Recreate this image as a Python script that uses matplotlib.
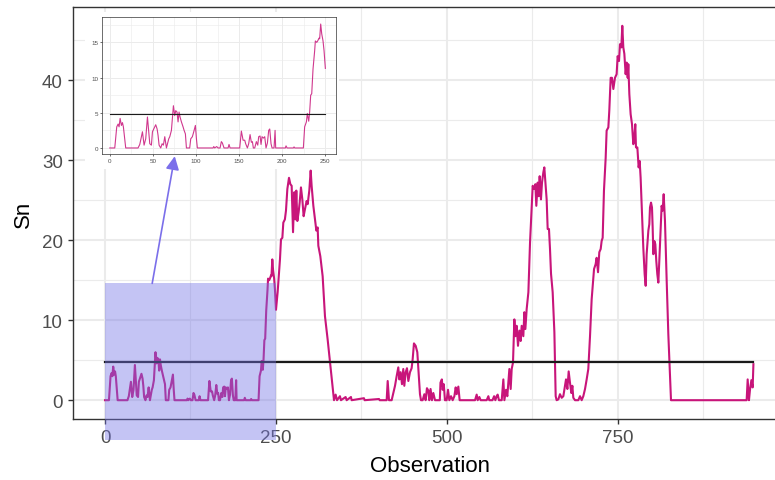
import numpy as np
import matplotlib.pyplot as plt
from matplotlib.patches import Rectangle, FancyArrowPatch

plt.rcParams['font.family'] = ['Liberation Sans', 'DejaVu Sans']

# === Data ===
obs = [0, 5.8, 8.1, 9.7, 10.8, 12, 13.5, 14.7, 15.8, 18.5, 32.8, 34.8, 36.7, 37.9, 39.8,
       41.7, 43.7, 45.2, 46.4, 48.3, 49.5, 51.4, 53.3, 54.9, 56, 57.2, 59.1, 60.7, 62.2,
       63.8, 65.7, 68.4, 69.6, 71.5, 73.8, 75.3, 76.5, 78, 79.2, 80.4, 81.5, 83.1, 85,
       86.2, 87.7, 88.9, 92.7, 93.9, 95.8, 97.4, 99.3, 100.5, 101.6, 119.8, 120.6, 121.7,
       124, 125.6, 127.9, 129.4, 130.6, 132.5, 137.2, 138.3, 139.5, 150.7, 152.6, 154.6,
       156.5, 157.6, 159.6, 161.1, 162.7, 164.2, 165.4, 166.5, 168.1, 170, 171.6, 172.7,
       174.3, 175.4, 176.6, 178.1, 179.7, 181.2, 182.8, 184.3, 185.5, 187, 188.2, 190.5,
       191.7, 192.4, 203.6, 204.4, 205.6, 212.9, 213.7, 214.5, 224.5, 226, 228, 229.1,
       230.7, 231.8, 233, 234.2, 235.7, 237.6, 238.4, 240, 241.1, 242.7, 243.4, 244.6,
       245.8, 247.3, 248.5, 250,
       252.4, 255.8, 257.3, 259.3, 260.7, 263, 264.6, 266.6, 269, 271, 272.9, 274.9, 276.8,
       278.3, 279.7, 281.2, 283.1, 284.6, 286.5, 288.5, 290.4, 292.4, 294.8, 296.3, 298.7,
       300.7, 302.1, 304.6, 307, 309, 310.9, 311.9, 314.8, 318.2, 321.6, 325.5, 329, 332.4,
       334.8, 337.2, 339.2, 343.5, 345, 351.8, 353.3, 359.6, 360.6, 378.6, 379.6, 400.6,
       401.6, 411.8, 413.3, 415.2, 419.1, 424, 426.4, 428.8, 430.3, 432.2, 434.2, 436.1,
       437.6, 439.6, 441.5, 443.5, 445.9, 448.3, 449.8, 451.7, 454.2, 456.6, 458.1, 460.5,
       462, 464.4, 466.9, 468.8, 470.7, 472.7, 474.1, 476, 478, 480, 482.5, 489.5, 490.5,
       492.5, 493.7, 495.3, 497, 499.5, 501.5, 503.4, 505.9, 508.3, 510.8, 512.7, 514.2,
       516.6, 518.5, 541, 543.4, 544.9, 547.3, 549.2, 558, 560.5, 561.8, 566.5, 568.9,
       570.7, 572.6, 574.1, 576, 580, 582.4, 583.9, 586.3, 588.2, 589.7, 591.2, 593.1,
       594.6, 596.5, 598.5, 599.9, 601.9, 603.8, 605.8, 607.7, 609.2, 611.6, 613.1, 614.6,
       616.5, 619, 621.4, 623.8, 625.3, 627.2, 629.2, 630.6, 632.6, 634.1, 635.5, 637.4,
       638.9, 640.9, 642.3, 643.8, 645.7, 647.2, 649.1, 650.6, 652.1, 654.5, 657, 658.9,
       660.3, 662.8, 665.2, 667.7, 670.1, 672.5, 674, 676, 677.9, 679.8, 681.8, 683.3,
       684.7, 687.2, 692, 694.5, 696.9, 699.3, 701.8, 704.2, 706.6, 709.1, 711.5, 715,
       717.3, 718.8, 720.8, 722.7, 724.7, 726.1, 727.6, 729.5, 732, 733.4, 735.9, 737.3,
       739.3, 741.2, 743.2, 745.6, 748, 749.5, 751.5, 752.9, 754.9, 756.3, 757.8, 759.3,
       761.2, 762.7, 764.2, 765.1, 766.6, 768.5, 770.5, 772.4, 773.9, 775.3, 776.3, 778.3,
       780.2, 781.7, 783.1, 785.1, 787, 789, 790.5, 791.9, 794.4, 795.8, 796.8, 798.3,
       799.7, 800.7, 801.7, 803.1, 804.6, 806, 807.5, 809, 810.4, 812.4, 813.8, 815.3,
       816.8, 818.7, 821.2, 823.6, 826, 827.5, 938.1, 939.6, 941.5, 943, 945, 946.9, 948]
sn = [0, 0, 3.0, 3.4, 3.0, 4.2, 3.2, 3.6, 3.0, 0, 0, 0.5, 1.6, 2.3, 0.4,
      1.3, 4.4, 2.3, 0.6, 0.4, 2.3, 2.8, 3.3, 2.7, 1.8, 0.4, 0, 0.6, 0.4,
      1.6, 0, 1.3, 1.6, 2.5, 6.0, 4.6, 5.3, 5.1, 3.7, 5.1, 4.4, 3.7, 3.0,
      2.5, 2.0, 0, 0, 1.3, 1.6, 2.3, 3.2, 1.3, 0, 0, 0.2, 0,
      0.2, 0, 0, 0.9, 0.7, 0, 0, 0.5, 0, 0, 2.4, 1.1,
      1.1, 0.6, 0, 0.6, 1.9, 0.8, 0.9, 0, 0, 0.9, 0.4, 1.6,
      1.7, 0.5, 1.6, 1.4, 1.6, 0, 0.7, 2.5, 2.7, 0.6, 0, 0,
      2.5, 0, 0, 0.3, 0, 0, 0.15, 0, 0, 3.0, 3.7, 4.9,
      3.8, 5.1, 7.5, 7.7, 11.2, 13.8, 15.2, 15.0, 15.2, 15.6, 15.5, 17.6,
      16.2, 15.2, 13.8, 11.3,
      13.5, 17.6, 20.1, 20.3, 22.2, 22.6, 23.7, 26.4, 27.8, 27.0, 26.8, 21.0, 26.0,
      22.6, 26.2, 22.4, 23.5, 24.7, 26.6, 25.1, 23.0, 23.9, 24.9, 24.5, 26.2,
      28.7, 26.8, 24.3, 22.6, 21.2, 21.6, 19.3, 18.0, 15.5, 10.5, 7.6, 4.7, 1.8,
      0, 0.7, 0, 0.5, 0, 0.4, 0, 0.4, 0, 0.25, 0, 0.15,
      0, 0, 2.4, 0, 0, 1.8, 3.0, 4.1, 2.6, 3.5, 2.0, 3.9,
      1.8, 3.5, 4.0, 2.4, 3.5, 4.0, 5.1, 7.1, 6.8, 6.0, 3.9, 0.75,
      0, 0, 0.75, 0, 1.5, 1.2, 0, 1.4, 0, 0.9, 0, 0, 2.2,
      2.6, 1.3, 2.0, 0, 0, 1.3, 0, 0.5, 0, 0.5, 1.6, 0.75,
      1.7, 0, 0, 0.7, 0, 0.4, 0, 0, 0.5, 0, 0, 0.5,
      0, 0.5, 0.7, 0, 0, 2.6, 0, 1.3, 0.5, 2.2, 3.9, 1.4,
      3.9, 4.7, 10.1, 8.0, 9.3, 6.8, 8.7, 7.4, 9.3, 8.0, 11.0, 8.9,
      11.4, 13.5, 19.7, 23.9, 26.8, 26.4, 27.0, 24.3, 27.2, 25.5, 28.0, 25.1,
      27.2, 28.5, 29.1, 27.4, 25.1, 21.4, 21.4, 18.9, 15.8, 13.5, 8.5, 0.5,
      0, 0.1, 0.75, 0.3, 0.5, 1.8, 2.6, 1.4, 3.6, 2.2, 0.9, 1.8,
      0.3, 0, 0, 0.5, 0, 0.5, 1.4, 2.6, 3.9, 8.0, 12.6, 16.4,
      17.0, 17.8, 16.0, 18.5, 18.9, 19.9, 20.3, 26.2, 30.3, 33.7, 34.1, 36.2,
      40.3, 40.3, 38.9, 40.3, 40.75, 43.0, 42.4, 44.5, 44.1, 46.8, 44.1, 43.3,
      40.75, 42.2, 40.3, 42.0, 38.25, 35.75, 34.5, 32.0, 32.8, 34.5, 31.6, 31.6,
      29.1, 29.9, 27.8, 23.25, 19.1, 15.75, 14.3, 18.25, 21.2, 22.0, 24.1, 24.7,
      24.1, 21.6, 18.25, 19.9, 19.5, 17.4, 15.75, 14.7, 17.4, 21.6, 24.3, 23.7,
      25.75, 22.4, 14.9, 8.25, 3.25, 0, 0, 2.6, 0, 1.3, 2.5, 1.6, 4.5]
threshold = 4.8
zoom_x = [0, 250]
zoom_y = [-5, 14.6]
arrow_from = (69, 14.6)
arrow_to = (102, 30.5)

obs = np.array(obs)
sn = np.array(sn)
line_col = '#C8157A'
W, H = 775, 481


def px_box(l, t, r, b):
    return [l / W, 1 - b / H, (r - l) / W, (b - t) / H]


def style_bw(a, size, tick_len, border_lw, major_lw, minor_lw, pad):
    a.grid(which='major', color='#EBEBEB', lw=major_lw)
    a.grid(which='minor', color='#EBEBEB', lw=minor_lw)
    a.set_axisbelow(True)
    for s in a.spines.values():
        s.set_color('#333333')
        s.set_linewidth(border_lw)
    a.tick_params(which='major', labelsize=size, labelcolor='#4D4D4D', color='#333333',
                  length=tick_len, width=border_lw, pad=pad)
    a.tick_params(which='minor', length=0)


fig = plt.figure(figsize=(W / 100, H / 100), dpi=100)

# === Main panel ===
ax = fig.add_axes(px_box(73.3, 8, 785.8, 420))
ax.plot(obs, sn, color=line_col, lw=1.5, zorder=2)
ax.plot([obs[0], obs[-1]], [threshold, threshold], color='#1a1a1a', lw=1.6, zorder=2)
ax.add_patch(Rectangle((zoom_x[0], zoom_y[0]), zoom_x[1] - zoom_x[0], zoom_y[1] - zoom_y[0],
                       facecolor=(0.45, 0.45, 0.9), alpha=0.42, lw=0, clip_on=False, zorder=3))
ax.set_xlim(-46.35, 995.35)
ax.set_ylim(-2.35, 49.15)
ax.set_xticks([0, 250, 500, 750])
ax.set_xticks([125, 375, 625, 875], minor=True)
ax.set_yticks([0, 10, 20, 30, 40])
ax.set_yticks([5, 15, 25, 35, 45], minor=True)
style_bw(ax, 13.5, 3.5, 1.0, 1.5, 0.8, 4)
ax.set_xlabel('Observation', fontsize=16, labelpad=6)
ax.set_ylabel('Sn', fontsize=16, labelpad=6)

# === Inset (first 250 observations) ===
bg = Rectangle((85 / W, 1 - 170 / H), (339 - 85) / W, (170 - 13) / H, transform=fig.transFigure,
               facecolor='white', edgecolor='none', zorder=1)
fig.add_artist(bg)
ins = fig.add_axes(px_box(102, 18, 335.7, 155.3))
ins.set_zorder(2)
keep = obs <= zoom_x[1]
ins.plot(obs[keep], sn[keep], color=line_col, lw=0.8, alpha=0.85)
ins.plot([obs[0], zoom_x[1]], [threshold, threshold], color='#1a1a1a', lw=0.8)
ins.set_xlim(-9, 262)
ins.set_ylim(-0.9, 18.6)
ins.set_xticks([0, 50, 100, 150, 200, 250])
ins.set_xticks([25, 75, 125, 175, 225], minor=True)
ins.set_yticks([0, 5, 10, 15])
ins.set_yticks([2.5, 7.5, 12.5, 17.5], minor=True)
style_bw(ins, 4.5, 1.5, 0.5, 0.7, 0.4, 1)

# arrow from the zoom box to the inset, drawn above the inset background
arrow = FancyArrowPatch(arrow_from, arrow_to, transform=ax.transData, arrowstyle='-|>',
                        color='#7B6FEA', lw=1.2, mutation_scale=20, shrinkA=0, shrinkB=0,
                        zorder=3)
fig.add_artist(arrow)

fig.savefig('out.png', dpi=100)
